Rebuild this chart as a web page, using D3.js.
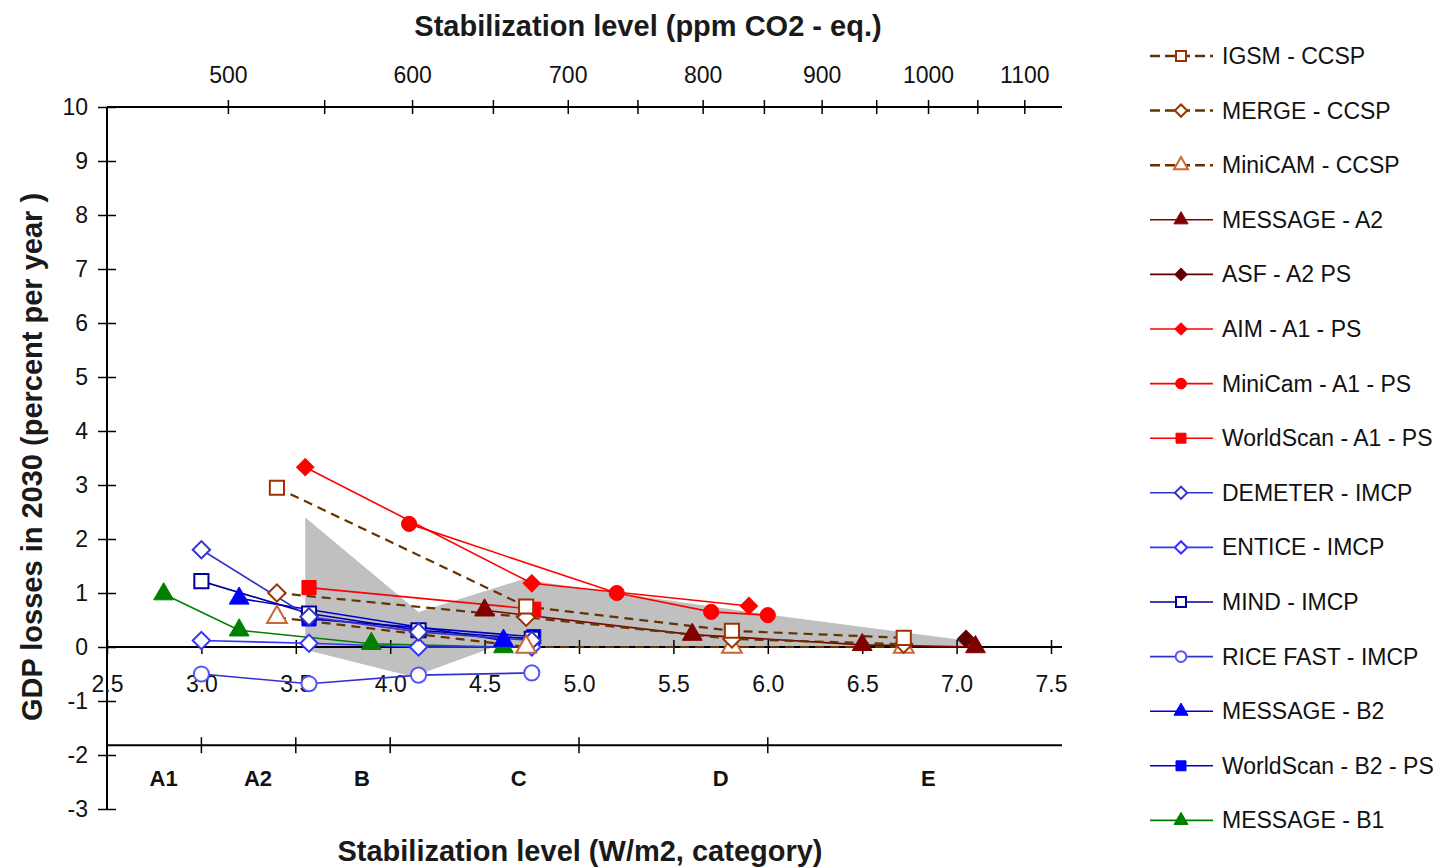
<!DOCTYPE html>
<html lang="en">
<head>
<meta charset="UTF-8">
<title>GDP losses in 2030 vs stabilization level</title>
<script src="https://d3js.org/d3.v7.min.js"></script>
<style>
  body { margin: 0; background: #fff; }
  svg { display: block; font-family: "Liberation Sans", Arial, sans-serif; }
</style>
</head>
<body>
<svg width="1451" height="867"></svg>
<script>
// ---- data (x = W/m2, y = GDP loss in % per year) ----
const forcingTicks = [2.5, 3.0, 3.5, 4.0, 4.5, 5.0, 5.5, 6.0, 6.5, 7.0, 7.5];
const ppmTicks = [500, 550, 600, 650, 700, 750, 800, 850, 900, 950, 1000, 1050, 1100];
const yTicks = [-3, -2, -1, 0, 1, 2, 3, 4, 5, 6, 7, 8, 9, 10];
const categories = ["A1", "A2", "B", "C", "D", "E"];
const categoryCenters = [2.8, 3.3, 3.85, 4.68, 5.75, 6.85];
const categoryBreaks = [3.0, 3.5, 4.0, 5.0, 6.0];

// shaded range
const rangeUpper = [[3.55, 2.4], [4.15, 0.65], [4.7, 1.25], [6.0, 0.6], [7.05, 0.12]];
const rangeLower = [[3.55, -0.05], [4.12, -0.55], [4.55, 0.0], [7.05, 0.0]];

const igsmCCSP = [[3.4, 2.95], [4.72, 0.75], [5.81, 0.3], [6.72, 0.17]];
const mergeCCSP = [[3.4, 1.0], [4.72, 0.55], [5.81, 0.15], [6.72, 0.05]];
const minicamCCSP = [[3.4, 0.55], [4.72, 0.0], [5.81, 0.0], [6.72, 0.0]];
const messageA2 = [[4.5, 0.68], [5.6, 0.23], [6.5, 0.04], [7.1, 0.0]];
const asfA2 = [[7.05, 0.15]];
const aimA1 = [[3.55, 3.33], [4.75, 1.18], [5.9, 0.76]];
const minicamA1 = [[4.1, 2.28], [5.2, 1.0], [5.7, 0.65], [6.0, 0.59]];
const worldscanA1 = [[3.57, 1.1], [4.76, 0.7]];
const demeter = [[3.0, 1.8], [3.57, 0.56], [4.15, 0.28], [4.75, 0.12]];
const entice = [[3.0, 0.12], [3.57, 0.07], [4.15, 0.0], [4.75, 0.0]];
const mind = [[3.0, 1.22], [3.57, 0.62], [4.15, 0.31], [4.75, 0.15]];
const riceFast = [[3.0, -0.5], [3.57, -0.68], [4.15, -0.52], [4.75, -0.48]];
const messageB2 = [[3.2, 0.9], [4.6, 0.12]];
const worldscanB2 = [[3.57, 0.52], [4.76, 0.19]];
const messageB1 = [[2.8, 0.98], [3.2, 0.31], [3.9, 0.06], [4.6, 0.0]];

const series = [
  { name: "IGSM - CCSP", data: igsmCCSP, color: "#663300", mark: "#993300", shape: "square", fill: false, dash: true },
  { name: "MERGE - CCSP", data: mergeCCSP, color: "#663300", mark: "#993300", shape: "diamond", fill: false, dash: true },
  { name: "MiniCAM - CCSP", data: minicamCCSP, color: "#663300", mark: "#CC6633", shape: "triangle", fill: false, dash: true },
  { name: "MESSAGE - A2", data: messageA2, color: "#800000", mark: "#800000", shape: "triangle", fill: true },
  { name: "ASF - A2 PS", data: asfA2, color: "#600000", mark: "#600000", shape: "diamond", fill: true },
  { name: "AIM - A1 - PS", data: aimA1, color: "#FF0000", mark: "#FF0000", shape: "diamond", fill: true },
  { name: "MiniCam - A1 - PS", data: minicamA1, color: "#FF0000", mark: "#FF0000", shape: "circle", fill: true },
  { name: "WorldScan - A1 - PS", data: worldscanA1, color: "#FF0000", mark: "#FF0000", shape: "square", fill: true },
  { name: "DEMETER - IMCP", data: demeter, color: "#3333CC", mark: "#3333CC", shape: "diamond", fill: false },
  { name: "ENTICE - IMCP", data: entice, color: "#3333FF", mark: "#3333FF", shape: "diamond", fill: false },
  { name: "MIND - IMCP", data: mind, color: "#000099", mark: "#000099", shape: "square", fill: false },
  { name: "RICE FAST - IMCP", data: riceFast, color: "#3333CC", mark: "#5555FF", shape: "circle", fill: false },
  { name: "MESSAGE - B2", data: messageB2, color: "#0000CC", mark: "#0000FF", shape: "triangle", fill: true },
  { name: "WorldScan - B2 - PS", data: worldscanB2, color: "#0000CC", mark: "#0000FF", shape: "square", fill: true },
  { name: "MESSAGE - B1", data: messageB1, color: "#008000", mark: "#008000", shape: "triangle", fill: true }
];

// ---- scales ----
const svg = d3.select("svg");
svg.append("rect").attr("width", 1451).attr("height", 867).attr("fill", "#fff");

const x = d3.scaleLinear().domain([2.5, 7.5]).range([107, 1051]);
const y = d3.scaleLinear().domain([-3, 10]).range([809, 107]);
// radiative forcing = 5.35 ln(C / 278)
const ppmAt = w => 278 * Math.exp(w / 5.35);
const xPpm = d3.scaleLog().domain([ppmAt(2.5), ppmAt(7.5)]).range([107, 1051]);
const axisEnd = 1062;

// ---- shaded range ----
const area = rangeUpper.concat(rangeLower.slice().reverse());
svg.append("path")
   .attr("d", d3.line().x(d => x(d[0])).y(d => y(d[1]))(area) + "Z")
   .attr("fill", "#C0C0C0");

// ---- axes ----
function crossTicks(g, len, vertical) {
  g.select(".domain").remove();
  g.selectAll(".tick line")
   .attr(vertical ? "x1" : "y1", -len)
   .attr(vertical ? "x2" : "y2", len)
   .attr("stroke", "#000").attr("stroke-width", 1.5);
  g.selectAll(".tick text").attr("fill", "#111")
   .style("font-family", "Liberation Sans, Arial, sans-serif")
   .style("font-size", "23px");
}

// y axis
const yAxis = svg.append("g").attr("transform", `translate(${x(2.5)},0)`)
  .call(d3.axisLeft(y).tickValues(yTicks).tickSize(9).tickPadding(10).tickFormat(d => String(d)));
crossTicks(yAxis, 9, true);
svg.append("line").attr("x1", x(2.5)).attr("x2", x(2.5)).attr("y1", y(10)).attr("y2", y(-3))
   .attr("stroke", "#000").attr("stroke-width", 2);

// top ppm axis
const topAxis = svg.append("g").attr("transform", `translate(0,${y(10)})`)
  .call(d3.axisTop(xPpm).tickValues(ppmTicks).tickSize(7).tickPadding(17)
          .tickFormat(d => d % 100 === 0 ? d : ""));
crossTicks(topAxis, 7, false);
svg.append("line").attr("x1", x(2.5)).attr("x2", axisEnd).attr("y1", y(10)).attr("y2", y(10))
   .attr("stroke", "#000").attr("stroke-width", 2);

// zero line axis (W/m2)
const zeroAxis = svg.append("g").attr("transform", `translate(0,${y(0)})`)
  .call(d3.axisBottom(x).tickValues(forcingTicks).tickSize(7).tickPadding(22).tickFormat(d3.format(".1f")));
crossTicks(zeroAxis, 7, false);
svg.append("line").attr("x1", x(2.5)).attr("x2", axisEnd).attr("y1", y(0)).attr("y2", y(0))
   .attr("stroke", "#000").attr("stroke-width", 2);

// category axis
const catY = y(-1.82);
svg.append("line").attr("x1", x(2.5)).attr("x2", axisEnd).attr("y1", catY).attr("y2", catY)
   .attr("stroke", "#000").attr("stroke-width", 2);
svg.selectAll(".cat-tick").data(categoryBreaks).enter().append("line")
   .attr("x1", d => x(d)).attr("x2", d => x(d))
   .attr("y1", catY - 8).attr("y2", catY + 8)
   .attr("stroke", "#000").attr("stroke-width", 1.5);
svg.selectAll(".cat-label").data(categories).enter().append("text")
   .attr("x", (d, i) => x(categoryCenters[i]))
   .attr("y", catY + 41)
   .attr("text-anchor", "middle")
   .style("font-size", "22px").style("font-weight", "bold").attr("fill", "#111")
   .text(d => d);

// axis titles
svg.append("text").attr("x", 648).attr("y", 36).attr("text-anchor", "middle")
   .style("font-size", "29px").style("font-weight", "bold").attr("fill", "#1a1a1a")
   .text("Stabilization level (ppm CO2 - eq.)");
svg.append("text").attr("x", 580).attr("y", 861).attr("text-anchor", "middle")
   .style("font-size", "29px").style("font-weight", "bold").attr("fill", "#1a1a1a")
   .text("Stabilization level (W/m2, category)");
svg.append("text").attr("transform", "translate(42,457) rotate(-90)").attr("text-anchor", "middle")
   .style("font-size", "29px").style("font-weight", "bold").attr("fill", "#1a1a1a")
   .text("GDP losses in 2030 (percent per year )");

// ---- series ----
const symbolType = { square: d3.symbolSquare, diamond: d3.symbolSquare, triangle: d3.symbolTriangle, circle: d3.symbolCircle };
const symbolSize = { square: 200, diamond: 150, triangle: 170, circle: 180 };

function drawMarker(g, s, scale) {
  g.append("path")
   .attr("d", d3.symbol().type(symbolType[s.shape]).size(symbolSize[s.shape] * scale)())
   .attr("transform", s.shape === "diamond" ? "rotate(45)" : null)
   .attr("fill", s.fill ? s.mark : "#fff")
   .attr("stroke", s.mark)
   .attr("stroke-width", s.fill ? 1 : 2);
}

const line = d3.line().x(d => x(d[0])).y(d => y(d[1]));
const plot = svg.append("g");
series.slice().reverse().forEach(s => {
  plot.append("path")
      .attr("d", line(s.data))
      .attr("fill", "none")
      .attr("stroke", s.color)
      .attr("stroke-width", s.dash ? 2.2 : 1.6)
      .attr("stroke-dasharray", s.dash ? "9,6" : null);
});
series.slice().reverse().forEach(s => {
  s.data.forEach(p => {
    const g = plot.append("g").attr("transform", `translate(${x(p[0])},${y(p[1])})`);
    drawMarker(g, s, 1);
  });
});

// ---- legend ----
const legend = svg.selectAll(".legend").data(series).enter().append("g")
   .attr("transform", (d, i) => `translate(1150,${56 + i * 54.6})`);
legend.append("line").attr("x1", 0).attr("x2", 63)
   .attr("stroke", d => d.color).attr("stroke-width", d => d.dash ? 2.5 : 1.6)
   .attr("stroke-dasharray", d => d.dash ? "10,5" : null);
legend.each(function (d) {
  const g = d3.select(this).append("g").attr("transform", "translate(31,0)");
  drawMarker(g, d, 0.5);
});
legend.append("text").attr("x", 72).attr("y", 8)
   .style("font-size", "23px").attr("fill", "#111")
   .text(d => d.name);
</script>
</body>
</html>
